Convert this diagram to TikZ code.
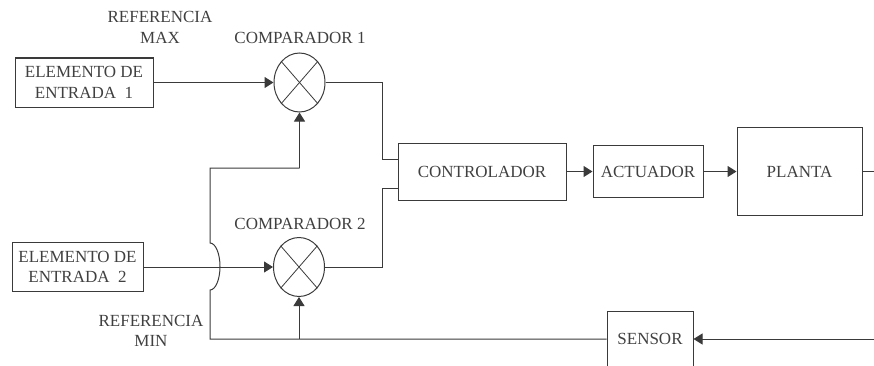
\documentclass[tikz,border=0pt]{standalone}
\usepackage{fontspec}
\setmainfont{Liberation Serif}
\usetikzlibrary{arrows.meta,shapes.geometric}
\definecolor{ln}{HTML}{3A3A3A}
\definecolor{tx}{HTML}{404040}
\begin{document}
\begin{tikzpicture}[x=1pt,y=1pt,
  every node/.style={font=\fontsize{17}{20.5}\selectfont, text=tx, align=center, inner sep=0pt},
  blk/.style={draw=ln, line width=1pt, rectangle},
  cmp/.style={draw=ln, line width=1pt, ellipse, minimum width=51pt, minimum height=59pt},
  wire/.style={draw=ln, line width=1pt},
  arr/.style={wire, -{Triangle[length=9pt,width=11pt]}}]
\useasboundingbox (0,0) rectangle (874,365);
\clip (0,0) rectangle (874,365);
% blocks
\node[blk, minimum width=138pt, minimum height=49pt] (in1) at (84,282.5) {ELEMENTO DE\\ENTRADA\ \ 1};
\node[blk, minimum width=131pt, minimum height=49pt] (in2) at (77.5,98) {ELEMENTO DE\\ENTRADA\ \ 2};
\node[cmp] (c1) at (299.5,282.5) {};
\node[cmp] (c2) at (299,98) {};
\draw[ln, line width=0.8pt] (c1.north west) -- (c1.south east) (c1.north east) -- (c1.south west);
\draw[ln, line width=0.8pt] (c2.north west) -- (c2.south east) (c2.north east) -- (c2.south west);
\node[blk, minimum width=168pt, minimum height=57pt] (ctl) at (482,193.5) {CONTROLADOR};
\node[blk, minimum width=110pt, minimum height=52pt] (act) at (648,193.5) {ACTUADOR};
\node[blk, minimum width=125pt, minimum height=88pt] (pl) at (799.5,193.5) {PLANTA};
\node[blk, minimum width=86pt, minimum height=56pt] (sen) at (650,26) {SENSOR};
% labels
\node (rmax) at (160,337.5) {REFERENCIA\\MAX};
\node (lc1) at (300,327) {COMPARADOR 1};
\node (lc2) at (300,141) {COMPARADOR 2};
\node (rmin) at (151,34) {REFERENCIA\\MIN};
% coordinates
\coordinate (k1) at (382,282.5);
\coordinate (k2) at (382,206);
\coordinate (k3) at (382,98);
\coordinate (k4) at (382,177);
\coordinate (e1) at (874,193.5);
\coordinate (e2) at (874,26);
\coordinate (f1) at (210,26);
\coordinate (f2) at (210,75);
\coordinate (f3) at (210,197);
\coordinate (f4) at (299.5,197);
\coordinate (f5) at (299,26);
% connectors
\draw[arr] (in1.east) -- (c1.west);
\draw[arr] (in2.east) -- (c2.west);
\draw[wire] (c1.east) -- (k1) -- (k2) -- (k2 -| ctl.west);
\draw[wire] (c2.east) -- (k3) -- (k4) -- (k4 -| ctl.west);
\draw[arr] (ctl.east) -- (act.west);
\draw[arr] (act.east) -- (pl.west);
\draw[wire] (pl.east) -- (e1);
\draw[arr] (e2) -- (sen.east);
\draw[wire] (sen.west) -- (f1) -- (f2) arc[start angle=-90, end angle=90, x radius=10, y radius=23.5] -- (f3) -- (f4);
\draw[arr] (f4) -- (c1.south);
\draw[arr] (f5) -- (c2.south);
\end{tikzpicture}
\end{document}
